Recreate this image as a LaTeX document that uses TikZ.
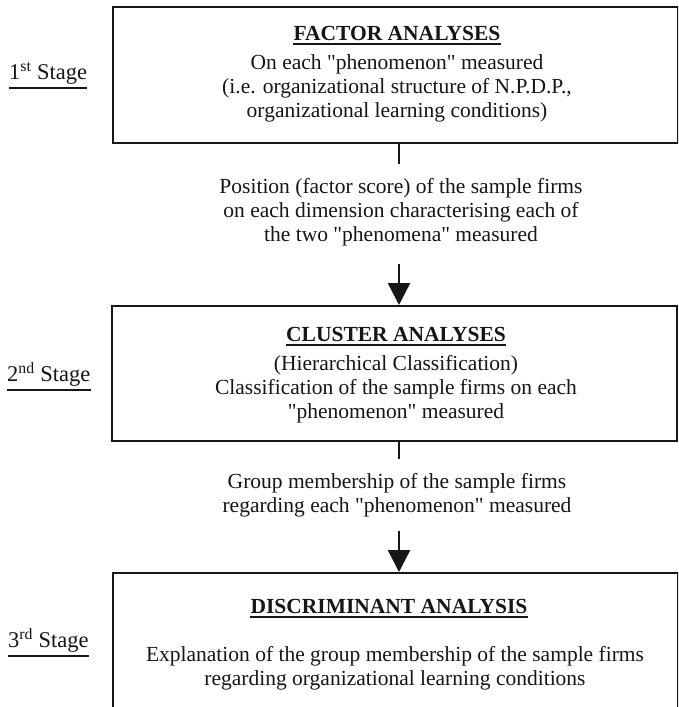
\documentclass[tikz,border=0pt]{standalone}
\usepackage{fontspec}
\setmainfont{Liberation Serif}[Ligatures=TeXOff]
\usetikzlibrary{arrows.meta}
\definecolor{ink}{RGB}{22,22,22}
\begin{document}
\begin{tikzpicture}[x=1pt,y=1pt,
  every node/.style={text=ink},
  boxshape/.style={draw=ink, line width=2pt, inner sep=0pt, anchor=north west, minimum width=565pt},
  body/.style={align=center, inner sep=0pt, font=\fontsize{21.5}{24}\selectfont},
  ttl/.style={inner sep=0pt, font=\fontsize{21.5}{24}\selectfont\bfseries},
  stagelbl/.style={inner sep=0pt, anchor=base west, font=\fontsize{22.5}{24}\selectfont},
  uline/.style={draw=ink, line width=2pt},
  conn/.style={draw=ink, line width=2.4pt},
  arr/.style={draw=ink, line width=2.4pt, -{Triangle[width=22pt,length=22pt]}}]
\clip (0,0) rectangle (678,-707);
\fill[white] (0,0) rectangle (678,-707);

% boxes
\node[boxshape, minimum height=136pt] (box1) at (112,-6) {};
\node[boxshape, minimum height=135pt] (box2) at (111,-305) {};
\node[boxshape, minimum height=160pt] (box3) at (112,-572) {};

% stage labels
\node[stagelbl] (s1) at (9,-79) {1\textsuperscript{st} Stage};
\node[stagelbl] (s2) at (7,-381) {2\textsuperscript{nd} Stage};
\node[stagelbl] (s3) at (8,-647) {3\textsuperscript{rd} Stage};
\draw[uline] ([yshift=-3.5pt]s1.south west) -- ([yshift=-3.5pt]s1.south east);
\draw[uline] ([yshift=-3.5pt]s2.south west) -- ([yshift=-3.5pt]s2.south east);
\draw[uline] ([yshift=-3.5pt]s3.south west) -- ([yshift=-3.5pt]s3.south east);

% box 1
\node[ttl] (t1) at (397,-33) {FACTOR ANALYSES};
\draw[uline] ([yshift=-4pt]t1.south west) -- ([yshift=-4pt]t1.south east);
\node[body] (b1) at (397,-88) {On each "phenomenon" measured\\(i.e. organizational structure of N.P.D.P.,\\organizational learning conditions)};

% link 1
\coordinate (c1) at (399,-164);
\draw[conn] (c1 |- box1.south) -- (c1);
\node[body] (m1) at (401,-212) {Position (factor score) of the sample firms\\on each dimension characterising each of\\the two "phenomena" measured};
\coordinate (a1) at (399,-264);
\draw[arr] (a1) -- (a1 |- box2.north);

% box 2
\node[ttl] (t2) at (396,-334) {CLUSTER ANALYSES};
\draw[uline] ([yshift=-4pt]t2.south west) -- ([yshift=-4pt]t2.south east);
\node[body] (b2) at (396,-389) {(Hierarchical Classification)\\Classification of the sample firms on each\\"phenomenon" measured};

% link 2
\coordinate (c2) at (399,-459);
\draw[conn] (c2 |- box2.south) -- (c2);
\node[body] (m2) at (397,-495.5) {Group membership of the sample firms\\regarding each "phenomenon" measured};
\coordinate (a2) at (399,-531);
\draw[arr] (a2) -- (a2 |- box3.north);

% box 3
\node[ttl] (t3) at (389,-606) {DISCRIMINANT ANALYSIS};
\draw[uline] ([yshift=-4pt]t3.south west) -- ([yshift=-4pt]t3.south east);
\node[body] (b3) at (395,-668.5) {Explanation of the group membership of the sample firms\\regarding organizational learning conditions};
\end{tikzpicture}
\end{document}
